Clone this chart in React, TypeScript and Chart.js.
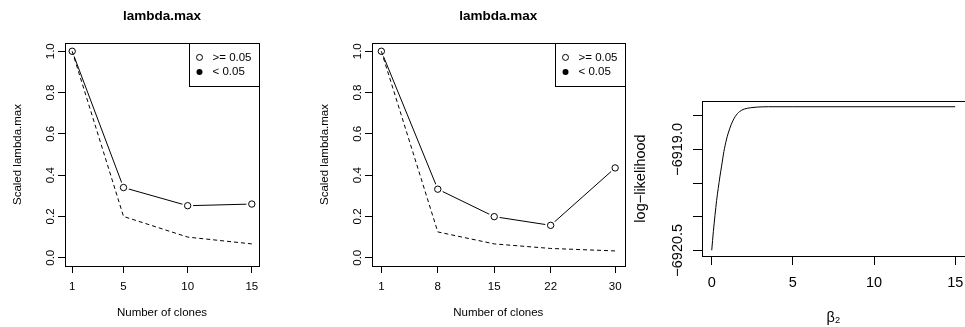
import React, { useEffect, useRef } from "react";
import { Chart, registerables } from "chart.js";
Chart.register(...registerables);

const FONT = '"Liberation Sans", Arial, Helvetica, sans-serif';

// ---- Panel 1 data ----
const clonesA = [1, 5, 10, 15];
const scaledA = [1.0, 0.34, 0.252, 0.26];
const referenceA = [1.0, 0.2, 0.1, 0.067];

// ---- Panel 2 data ----
const clonesB = [1, 8, 15, 22, 30];
const scaledB = [1.0, 0.332, 0.199, 0.157, 0.435];
const referenceB = [1.0, 0.125, 0.067, 0.045, 0.033];

const lambdaYTicks = [0, 0.2, 0.4, 0.6, 0.8, 1.0];
const lambdaTitle = "lambda.max";
const lambdaYLabel = "Scaled lambda.max";
const lambdaXLabel = "Number of clones";
const legendLabels = [">= 0.05", "< 0.05"];

// ---- Panel 3 data ----
const beta2 = [0, 0.1, 0.2, 0.3, 0.4, 0.5, 0.6, 0.75, 0.9, 1.0, 1.2, 1.45, 1.7, 2.0, 2.4, 2.8, 3.5, 5, 10, 15];
const logLik = [
  -6920.5, -6920.22, -6919.98, -6919.76, -6919.58, -6919.41, -6919.26, -6919.03, -6918.86, -6918.77,
  -6918.63, -6918.51, -6918.44, -6918.4, -6918.38, -6918.37, -6918.365, -6918.365, -6918.365, -6918.365,
];
const betaTicks = [0, 5, 10, 15];
const logLikTicks = [-6920.5, -6920.0, -6919.5, -6919.0, -6918.5];
const logLikTickLabels = ["−6920.5", "", "", "−6919.0", ""];
const llYLabel = "log−likelihood";
const llXLabel = "β₂";

const H = 327;

function rExtend(vals: number[]) {
  const mn = Math.min(...vals);
  const mx = Math.max(...vals);
  const e = (mx - mn) * 0.04;
  return [mn - e, mx + e];
}

function drawBox(ctx: CanvasRenderingContext2D, a: any) {
  const L = Math.round(a.left) + 0.5;
  const T = Math.round(a.top) + 0.5;
  const R = Math.round(a.right) + 0.5;
  const B = Math.round(a.bottom) + 0.5;
  ctx.strokeRect(L, T, R - L, B - T);
}

function lambdaPlugin() {
  return {
    id: "rdecor",
    afterDraw(chart: any) {
      const { ctx, chartArea: a, scales } = chart;
      ctx.save();
      ctx.strokeStyle = "#000";
      ctx.lineWidth = 1;
      drawBox(ctx, a);
      ctx.fillStyle = "#000";
      ctx.font = `bold 13.5px ${FONT}`;
      ctx.textAlign = "center";
      ctx.textBaseline = "middle";
      ctx.fillText(lambdaTitle, (a.left + a.right) / 2, 16);
      ctx.font = `11.5px ${FONT}`;
      lambdaYTicks.forEach((v) => {
        const y = scales.y.getPixelForValue(v);
        ctx.save();
        ctx.translate(a.left - 11, y);
        ctx.rotate(-Math.PI / 2);
        ctx.textAlign = "center";
        ctx.textBaseline = "alphabetic";
        ctx.fillText(v.toFixed(1), 0, 0);
        ctx.restore();
      });
      // legend
      const lw = 70;
      const lh = 42.5;
      const lx = Math.round(a.right - lw);
      const ly = Math.round(a.top);
      ctx.fillStyle = "#fff";
      ctx.fillRect(lx, ly, lw, lh);
      ctx.strokeRect(lx + 0.5, ly + 0.5, Math.round(a.right) - lx, Math.round(lh));
      legendLabels.forEach((t, i) => {
        const cy = ly + 14.4 + i * 14.6;
        ctx.beginPath();
        ctx.arc(lx + 10.5, cy, 3, 0, 2 * Math.PI);
        if (i === 0) {
          ctx.stroke();
        } else {
          ctx.fillStyle = "#000";
          ctx.fill();
        }
        ctx.fillStyle = "#000";
        ctx.textAlign = "left";
        ctx.textBaseline = "middle";
        ctx.fillText(t, lx + 23.5, cy);
      });
      ctx.restore();
    },
  };
}

function gridOpts(tl: number) {
  return {
    drawOnChartArea: false,
    drawTicks: true,
    tickLength: tl,
    color: "#000",
    tickColor: "#000",
    lineWidth: 1,
    tickWidth: 1,
  };
}

function lambdaConfig(clones: number[], scaled: number[], reference: number[], canvasLeft: number, canvasW: number, areaLeft: number, areaRight: number) {
  const AREA_TOP = 43;
  const AREA_BOTTOM = 266;
  const [xmin, xmax] = rExtend(clones);
  const solid = clones.map((c, i) => ({ x: c, y: scaled[i] }));
  const dashed = clones.map((c, i) => ({ x: c, y: reference[i] }));
  return {
    type: "line",
    data: {
      datasets: [
        { label: "circles", data: solid, showLine: false, pointRadius: 3.2, pointBorderWidth: 1, pointBorderColor: "#000", pointBackgroundColor: "rgba(0,0,0,0)", order: 0 },
        { label: "reference", data: dashed, borderColor: "#000", borderWidth: 1, borderDash: [4, 3], pointRadius: 0, order: 1, tension: 0 },
        { label: "mask", data: solid, showLine: false, pointRadius: 5.5, pointBorderWidth: 0, pointBorderColor: "#fff", pointBackgroundColor: "#fff", order: 2 },
        { label: "scaled", data: solid, borderColor: "#000", borderWidth: 1, pointRadius: 0, order: 3, tension: 0 },
      ],
    },
    options: {
      responsive: false,
      animation: false,
      events: [],
      layout: { padding: { left: 0, top: AREA_TOP, right: canvasW - areaRight, bottom: 0 } },
      plugins: { legend: { display: false }, tooltip: { enabled: false }, title: { display: false } },
      scales: {
        x: {
          type: "linear",
          min: xmin,
          max: xmax,
          afterBuildTicks: (s: any) => {
            s.ticks = clones.map((v) => ({ value: v }));
          },
          afterFit: (s: any) => {
            s.height = H - AREA_BOTTOM;
          },
          grid: gridOpts(7),
          border: { display: false },
          ticks: { color: "#000", font: { family: FONT, size: 11.5 }, padding: 7, maxRotation: 0, autoSkip: false, callback: (v: any) => String(v) },
          title: { display: true, text: lambdaXLabel, color: "#000", font: { family: FONT, size: 11.5 }, padding: { top: 7, bottom: 7 } },
        },
        y: {
          type: "linear",
          min: -0.04,
          max: 1.04,
          afterBuildTicks: (s: any) => {
            s.ticks = lambdaYTicks.map((v) => ({ value: v }));
          },
          afterFit: (s: any) => {
            s.width = areaLeft - canvasLeft;
          },
          grid: gridOpts(7),
          border: { display: false },
          ticks: { display: false },
          title: { display: true, text: lambdaYLabel, color: "#000", font: { family: FONT, size: 11.5 }, padding: { top: areaLeft - 47 - canvasLeft - 6.9, bottom: areaLeft - 47 - canvasLeft - 6.9 } },
        },
      },
    },
    plugins: [lambdaPlugin()],
  };
}

function llConfig(canvasLeft: number, canvasW: number) {
  const AREA_LEFT = 702;
  const AREA_RIGHT = 967;
  const AREA_TOP = 101;
  const AREA_BOTTOM = 256;
  const [xmin, xmax] = rExtend(beta2);
  const [ymin, ymax] = rExtend(logLik);
  const pts = beta2.map((b, i) => ({ x: b, y: logLik[i] }));
  const plugin = {
    id: "rdecor3",
    afterDraw(chart: any) {
      const { ctx, chartArea: a, scales } = chart;
      ctx.save();
      ctx.strokeStyle = "#000";
      ctx.lineWidth = 1;
      drawBox(ctx, a);
      ctx.fillStyle = "#000";
      ctx.font = `14.5px ${FONT}`;
      logLikTicks.forEach((v, i) => {
        const t = logLikTickLabels[i];
        if (!t) return;
        const y = scales.y.getPixelForValue(v);
        ctx.save();
        ctx.translate(a.left - 20, y);
        ctx.rotate(-Math.PI / 2);
        ctx.textAlign = "center";
        ctx.textBaseline = "alphabetic";
        ctx.fillText(t, 0, 0);
        ctx.restore();
      });
      ctx.restore();
    },
  };
  return {
    type: "line",
    data: {
      datasets: [
        { label: "loglik", data: pts, borderColor: "#000", borderWidth: 1, pointRadius: 0, cubicInterpolationMode: "monotone" },
      ],
    },
    options: {
      responsive: false,
      animation: false,
      events: [],
      layout: { padding: { left: 0, top: AREA_TOP, right: canvasW - (AREA_RIGHT - canvasLeft), bottom: 0 } },
      plugins: { legend: { display: false }, tooltip: { enabled: false }, title: { display: false } },
      scales: {
        x: {
          type: "linear",
          min: xmin,
          max: xmax,
          afterBuildTicks: (s: any) => {
            s.ticks = betaTicks.map((v) => ({ value: v }));
          },
          afterFit: (s: any) => {
            s.height = H - AREA_BOTTOM;
          },
          grid: gridOpts(9),
          border: { display: false },
          ticks: { color: "#000", font: { family: FONT, size: 14.5 }, padding: 9.5, maxRotation: 0, autoSkip: false, callback: (v: any) => String(v) },
          title: { display: true, text: llXLabel, color: "#000", font: { family: FONT, size: 14.5 }, padding: { top: 0.5, bottom: 0.5 } },
        },
        y: {
          type: "linear",
          min: ymin,
          max: ymax,
          afterBuildTicks: (s: any) => {
            s.ticks = logLikTicks.map((v) => ({ value: v }));
          },
          afterFit: (s: any) => {
            s.width = AREA_LEFT - canvasLeft;
          },
          grid: gridOpts(9),
          border: { display: false },
          ticks: { display: false },
          title: { display: true, text: llYLabel, color: "#000", font: { family: FONT, size: 14.5 }, padding: { top: 2.3, bottom: 2.3 } },
        },
      },
    },
    plugins: [plugin],
  };
}

function Panel({ left, width, build }: { left: number; width: number; build: () => any }) {
  const ref = useRef<HTMLCanvasElement>(null);
  useEffect(() => {
    const chart = new Chart(ref.current as HTMLCanvasElement, build());
    return () => chart.destroy();
  }, []);
  return (
    <canvas
      ref={ref}
      width={width}
      height={H}
      style={{ position: "absolute", left, top: 0, width, height: H }}
    />
  );
}

export default function App() {
  return (
    <div style={{ position: "fixed", left: 0, top: 0, width: 965, height: H, overflow: "hidden", background: "#fff" }}>
      <Panel left={0} width={310} build={() => lambdaConfig(clonesA, scaledA, referenceA, 0, 310, 65, 259)} />
      <Panel left={310} width={320} build={() => lambdaConfig(clonesB, scaledB, referenceB, 310, 320, 372, 567)} />
      <Panel left={630} width={343} build={() => llConfig(630, 343)} />
    </div>
  );
}
